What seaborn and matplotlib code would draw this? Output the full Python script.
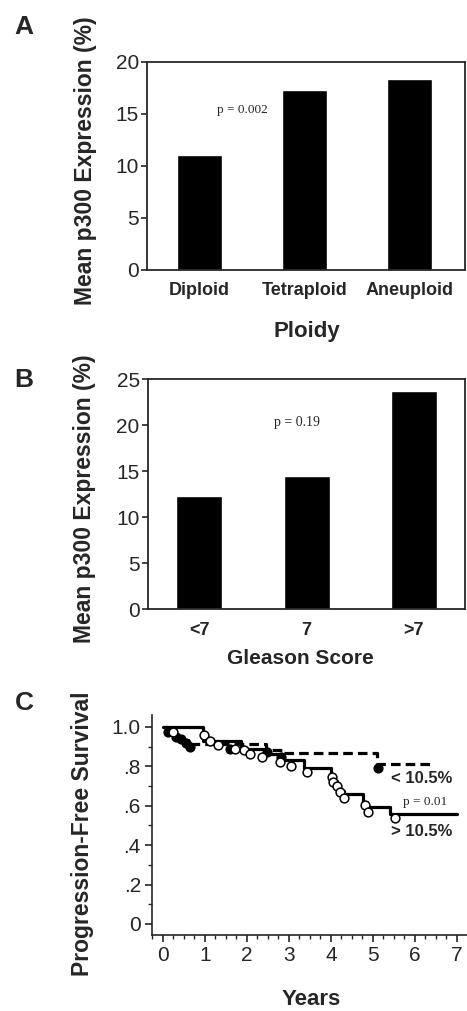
import numpy as np
import pandas as pd
import matplotlib
matplotlib.use("Agg")
import matplotlib.pyplot as plt
from matplotlib.ticker import MultipleLocator
import seaborn as sns

# Panel A: p300 by ploidy
ploidy = ["Diploid", "Tetraploid", "Aneuploid"]
ploidy_mean = [11.1, 17.3, 18.4]

# Panel B: p300 by Gleason score
gleason = ["<7", "7", ">7"]
gleason_mean = [12.3, 14.45, 23.7]

# Panel C: Kaplan-Meier step curves (time, survival)
low_t = [0, 0.12, 0.32, 0.45, 0.6, 2.45, 2.85, 5.1, 6.4]
low_s = [1.0, 0.97, 0.95, 0.935, 0.915, 0.88, 0.868, 0.81, 0.81]
high_t = [0, 0.95, 1.87, 2.5, 2.85, 3.35, 4.0, 4.07, 4.14, 4.22, 4.3, 4.77, 5.41, 7.0]
high_s = [1.0, 0.93, 0.885, 0.86, 0.83, 0.79, 0.755, 0.725, 0.70, 0.675, 0.66, 0.595, 0.557, 0.557]

# censor marks
low_cx = [0.12, 0.32, 0.44, 0.56, 0.64, 1.59, 2.47, 2.82, 5.13]
low_cy = [0.975, 0.946, 0.936, 0.916, 0.90, 0.888, 0.873, 0.848, 0.789]
high_cx = [0.24, 0.97, 1.13, 1.31, 1.71, 1.93, 2.07, 2.35, 2.78, 3.04, 3.42,
           4.02, 4.06, 4.15, 4.22, 4.3, 4.81, 4.89, 5.53]
high_cy = [0.975, 0.96, 0.93, 0.907, 0.885, 0.88, 0.86, 0.845, 0.823, 0.80, 0.77,
           0.747, 0.72, 0.70, 0.67, 0.637, 0.603, 0.57, 0.535]

sns.set_style("ticks")
plt.rcParams['font.family'] = ['Liberation Sans', 'DejaVu Sans']

fig = plt.figure(figsize=(4.67, 10.11), dpi=100)
axA = fig.add_axes([0.315, 0.733, 0.681, 0.2057])
axB = fig.add_axes([0.317, 0.3976, 0.679, 0.2275])
axC = fig.add_axes([0.3255, 0.0752, 0.6745, 0.2176])

serif = ['Liberation Serif', 'DejaVu Serif']


def bar_panel(ax, cats, vals, ymax, xlim, ylab_xy, xlab, xlab_xy, xlab_size):
    df = pd.DataFrame({"cat": cats, "val": vals})
    sns.barplot(data=df, x="cat", y="val", color="black", width=0.43,
                saturation=1, ax=ax)
    ax.set_xlim(*xlim)
    ax.set_ylim(0, ymax)
    ax.set_yticks(np.arange(0, ymax + 1, 5))
    for s in ax.spines.values():
        s.set_linewidth(1.3)
    ax.tick_params(axis='y', labelsize=15, length=4, width=1.2, pad=2)
    ax.tick_params(axis='x', length=0, labelsize=13, pad=9)
    for t in ax.get_xticklabels():
        t.set_fontweight('bold')
    ax.set_ylabel("Mean p300 Expression (%)", fontsize=16.5, fontweight='bold')
    ax.yaxis.set_label_coords(*ylab_xy)
    ax.set_xlabel(xlab, fontsize=xlab_size, fontweight='bold')
    ax.xaxis.set_label_coords(*xlab_xy)


bar_panel(axA, ploidy, ploidy_mean, 20, (-0.5, 2.53), (-0.157, 0.524),
          "Ploidy", (0.503, -0.245), 16)
axA.text(0.41, 15.4, "p = 0.002", fontsize=9.5, family=serif, ha='center', va='center')

bar_panel(axB, gleason, gleason_mean, 25, (-0.48, 2.48), (-0.165, 0.478),
          "Gleason Score", (0.48, -0.175), 15)
axB.text(0.91, 20.3, "p = 0.19", fontsize=10, family=serif, ha='center', va='center')

# Panel C
sns.lineplot(x=low_t, y=low_s, ax=axC, color='black', lw=2.3, estimator=None,
             drawstyle='steps-post', dashes=False, linestyle=(0, (3, 1.6)))
sns.lineplot(x=high_t, y=high_s, ax=axC, color='black', lw=2.3, estimator=None,
             drawstyle='steps-post')
sns.scatterplot(x=low_cx, y=low_cy, ax=axC, color='black', s=40,
                edgecolor='black', linewidth=1, zorder=3)
sns.scatterplot(x=high_cx, y=high_cy, ax=axC, color='white', s=40,
                edgecolor='black', linewidth=1.1, zorder=4)
axC.set_xlim(-0.26, 7.24)
axC.set_ylim(-0.056, 1.06)
axC.set_xticks(range(0, 8))
axC.xaxis.set_minor_locator(MultipleLocator(0.25))
axC.set_yticks([0, 0.2, 0.4, 0.6, 0.8, 1.0])
axC.set_yticklabels(["0", ".2", ".4", ".6", ".8", "1.0"])
axC.yaxis.set_minor_locator(MultipleLocator(0.1))
sns.despine(ax=axC)
for s in axC.spines.values():
    s.set_linewidth(1.2)
axC.tick_params(which='major', labelsize=15, length=5, width=1.2, pad=3)
axC.tick_params(which='minor', length=3, width=1.0)
axC.set_ylabel("Progression-Free Survival", fontsize=16.5, fontweight='bold')
axC.yaxis.set_label_coords(-0.185, 0.459)
axC.set_xlabel("Years", fontsize=16, fontweight='bold')
axC.xaxis.set_label_coords(0.505, -0.245)
axC.text(6.17, 0.74, "< 10.5%", fontsize=12, fontweight='bold', ha='center', va='center')
axC.text(6.17, 0.467, "> 10.5%", fontsize=12, fontweight='bold', ha='center', va='center')
axC.text(6.24, 0.62, "p = 0.01", fontsize=9.5, family=serif, ha='center', va='center')

# panel letters
for letter, y in [("A", 27), ("B", 380), ("C", 703)]:
    fig.text(24 / 467, 1 - y / 1011, letter, fontsize=19, fontweight='bold',
             ha='center', va='center')

fig.savefig("out.png", dpi=100)
